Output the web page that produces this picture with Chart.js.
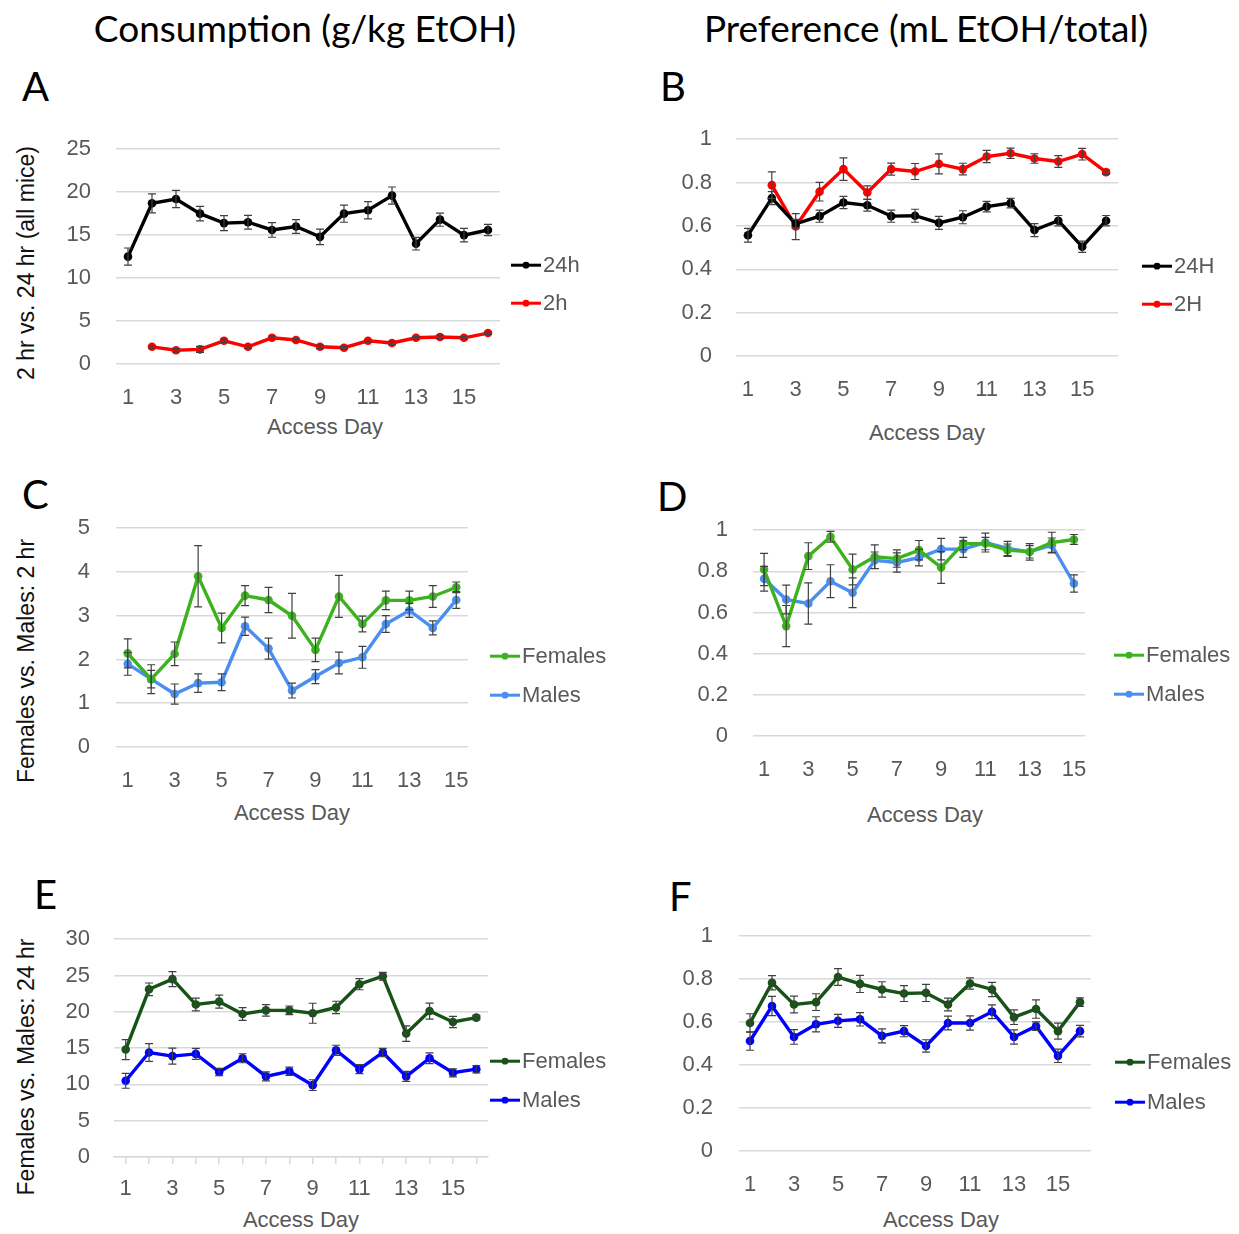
<!DOCTYPE html>
<html>
<head>
<meta charset="utf-8">
<title>EtOH access</title>
<script src="https://cdn.jsdelivr.net/npm/chart.js@4.4.0/dist/chart.umd.min.js"></script>
<style>
  body { margin: 0; background: #fff; }
  #page { position: relative; width: 1239px; height: 1234px; overflow: hidden; font-family: "Liberation Sans", Arial, sans-serif; }
  #page canvas { position: absolute; }
  .head { position: absolute; font-family: Lato, "Open Sans", sans-serif; font-size: 37px; line-height: 1; color: #000; white-space: nowrap; transform: translateX(-50%); }
  .letter { position: absolute; font-family: Lato, "Open Sans", sans-serif; font-size: 40px; line-height: 1; color: #000; }
  .ytitle { position: absolute; font-size: 23px; color: #111; white-space: nowrap; transform: translate(-50%, -50%) rotate(-90deg); }
  .xtitle { position: absolute; font-size: 22px; color: #595959; white-space: nowrap; transform: translate(-50%, -50%); }
</style>
</head>
<body>
<div id="page">
  <div class="head" style="left:305px; top:9px">Consumption (g/kg EtOH)</div>
  <div class="head" style="left:926px; top:9px">Preference (mL EtOH/total)</div>
  <div class="letter" style="left:22px; top:66px">A</div>
  <div class="letter" style="left:660px; top:66px">B</div>
  <div class="letter" style="left:22px; top:474px">C</div>
  <div class="letter" style="left:657px; top:476px">D</div>
  <div class="letter" style="left:34px; top:874px">E</div>
  <div class="letter" style="left:669px; top:876px">F</div>
  <div class="ytitle" style="left:26px; top:263px">2 hr vs. 24 hr (all mice)</div>
  <div class="ytitle" style="left:26px; top:661px">Females vs. Males: 2 hr</div>
  <div class="ytitle" style="left:26px; top:1067px">Females vs. Males: 24 hr</div>
  <div class="xtitle" style="left:325px; top:427px">Access Day</div>
  <div class="xtitle" style="left:927px; top:433px">Access Day</div>
  <div class="xtitle" style="left:292px; top:813px">Access Day</div>
  <div class="xtitle" style="left:925px; top:815px">Access Day</div>
  <div class="xtitle" style="left:301px; top:1220px">Access Day</div>
  <div class="xtitle" style="left:941px; top:1220px">Access Day</div>
</div>
<script>
// access days
const days16 = ['1','2','3','4','5','6','7','8','9','10','11','12','13','14','15','16'];
const days15 = ['1','2','3','4','5','6','7','8','9','10','11','12','13','14','15'];
const shownDays = ['1','3','5','7','9','11','13','15'];

// A: consumption, all mice
const consume24h    = [12.5, 18.7, 19.2, 17.5, 16.4, 16.5, 15.6, 16.0, 14.8, 17.5, 17.9, 19.6, 14.0, 16.8, 15.0, 15.6];
const consume24hErr = [1.0, 1.1, 1.0, 0.85, 0.87, 0.8, 0.85, 0.8, 0.9, 1.0, 1.0, 1.0, 0.73, 0.77, 0.79, 0.66];
const consume2h     = [null, 2.0, 1.6, 1.7, 2.7, 2.0, 3.05, 2.8, 2.0, 1.9, 2.7, 2.45, 3.05, 3.15, 3.05, 3.6];
const consume2hErr  = [null, 0.15, 0.2, 0.35, 0.2, 0.15, 0.2, 0.15, 0.2, 0.15, 0.15, 0.2, 0.15, 0.2, 0.15, 0.15];

// B: preference, all mice
const pref24H    = [0.557, 0.728, 0.61, 0.645, 0.708, 0.695, 0.645, 0.647, 0.614, 0.64, 0.689, 0.705, 0.581, 0.624, 0.504, 0.624];
const pref24HErr = [0.032, 0.03, 0.02, 0.028, 0.028, 0.027, 0.028, 0.03, 0.03, 0.03, 0.024, 0.022, 0.03, 0.024, 0.026, 0.024];
const pref2H     = [null, 0.788, 0.597, 0.758, 0.862, 0.754, 0.862, 0.851, 0.886, 0.862, 0.92, 0.935, 0.911, 0.897, 0.931, 0.848];
const pref2HErr  = [null, 0.061, 0.06, 0.043, 0.052, 0.031, 0.028, 0.037, 0.046, 0.027, 0.028, 0.024, 0.022, 0.027, 0.027, 0.01];

// C: 2 hr consumption by sex
const femConsume2h     = [2.14, 1.55, 2.13, 3.90, 2.72, 3.46, 3.36, 3.00, 2.22, 3.44, 2.81, 3.35, 3.35, 3.44, 3.65];
const femConsume2hErr  = [0.33, 0.2, 0.27, 0.70, 0.34, 0.23, 0.29, 0.51, 0.27, 0.48, 0.18, 0.21, 0.21, 0.25, 0.12];
const maleConsume2h    = [1.90, 1.55, 1.21, 1.46, 1.48, 2.76, 2.25, 1.29, 1.61, 1.92, 2.05, 2.81, 3.12, 2.72, 3.36];
const maleConsume2hErr = [0.26, 0.33, 0.23, 0.21, 0.19, 0.21, 0.24, 0.17, 0.16, 0.25, 0.25, 0.19, 0.16, 0.16, 0.19];

// D: 2 hr preference by sex
const femPref2h     = [0.809, 0.534, 0.874, 0.968, 0.809, 0.871, 0.862, 0.903, 0.819, 0.935, 0.935, 0.903, 0.895, 0.94, 0.955];
const femPref2hErr  = [0.078, 0.10, 0.065, 0.026, 0.075, 0.058, 0.042, 0.047, 0.077, 0.03, 0.03, 0.03, 0.03, 0.05, 0.024];
const malePref2h    = [0.764, 0.663, 0.644, 0.752, 0.696, 0.854, 0.843, 0.867, 0.908, 0.908, 0.94, 0.911, 0.895, 0.927, 0.741];
const malePref2hErr = [0.06, 0.07, 0.10, 0.08, 0.072, 0.04, 0.047, 0.04, 0.052, 0.04, 0.046, 0.035, 0.04, 0.035, 0.042];

// E: 24 hr consumption by sex
const femConsume24h     = [14.8, 23.1, 24.5, 21.0, 21.4, 19.7, 20.2, 20.2, 19.8, 20.6, 23.8, 24.9, 17.0, 20.1, 18.6, 19.2];
const femConsume24hErr  = [1.38, 0.87, 1.03, 0.87, 0.9, 0.87, 0.8, 0.6, 1.38, 0.85, 0.76, 0.53, 1.06, 1.1, 0.78, 0.3];
const maleConsume24h    = [10.5, 14.4, 13.9, 14.2, 11.7, 13.6, 11.1, 11.8, 9.9, 14.7, 12.1, 14.4, 11.1, 13.6, 11.6, 12.1];
const maleConsume24hErr = [1.03, 1.22, 1.1, 0.76, 0.5, 0.62, 0.62, 0.57, 0.74, 0.69, 0.62, 0.57, 0.69, 0.74, 0.55, 0.5];

// F: 24 hr preference by sex
const femPref24h     = [0.596, 0.783, 0.682, 0.693, 0.810, 0.778, 0.752, 0.733, 0.736, 0.682, 0.780, 0.752, 0.623, 0.661, 0.558, 0.693];
const femPref24hErr  = [0.043, 0.033, 0.039, 0.039, 0.039, 0.04, 0.036, 0.037, 0.04, 0.03, 0.026, 0.033, 0.034, 0.043, 0.037, 0.02];
const malePref24h    = [0.512, 0.675, 0.531, 0.590, 0.606, 0.613, 0.536, 0.558, 0.489, 0.596, 0.596, 0.648, 0.531, 0.581, 0.443, 0.558];
const malePref24hErr = [0.043, 0.045, 0.034, 0.035, 0.03, 0.031, 0.033, 0.026, 0.029, 0.032, 0.033, 0.032, 0.033, 0.02, 0.031, 0.027];

const GREY_TEXT = '#595959';
const GRID = '#d9d9d9';
const FONT = '"Liberation Sans", Arial, sans-serif';
const TICK_SIZE = 22;

// error bars (mean +/- err) on top of the lines
const errorBars = {
  id: 'errorBars',
  afterDatasetsDraw(chart) {
    const ctx = chart.ctx, y = chart.scales.y;
    chart.data.datasets.forEach((ds, i) => {
      if (!ds.errors) return;
      const meta = chart.getDatasetMeta(i);
      ctx.save();
      ctx.strokeStyle = '#404040';
      ctx.lineWidth = 1.2;
      meta.data.forEach((pt, j) => {
        const v = ds.data[j], e = ds.errors[j];
        if (v == null || !e) return;
        const hi = y.getPixelForValue(v + e), lo = y.getPixelForValue(v - e);
        ctx.beginPath();
        ctx.moveTo(pt.x, hi); ctx.lineTo(pt.x, lo);
        ctx.moveTo(pt.x - 4, hi); ctx.lineTo(pt.x + 4, hi);
        ctx.moveTo(pt.x - 4, lo); ctx.lineTo(pt.x + 4, lo);
        ctx.stroke();
      });
      ctx.restore();
    });
  }
};

// excel style legend: short line with a dot, label to the right
const lineLegend = {
  id: 'lineLegend',
  afterDraw(chart, args, opts) {
    const ctx = chart.ctx, area = chart.chartArea;
    ctx.save();
    chart.data.datasets.forEach((ds, i) => {
      const x = area.right + opts.dx, y = area.top + opts.ys[i];
      ctx.strokeStyle = ds.borderColor;
      ctx.fillStyle = ds.borderColor;
      ctx.lineWidth = 3;
      ctx.beginPath(); ctx.moveTo(x, y); ctx.lineTo(x + 30, y); ctx.stroke();
      ctx.beginPath(); ctx.arc(x + 15, y, 3.4, 0, Math.PI * 2); ctx.fill();
      ctx.fillStyle = GREY_TEXT;
      ctx.font = TICK_SIZE + 'px ' + FONT;
      ctx.textBaseline = 'middle';
      ctx.fillText(ds.label, x + 32, y + 1);
    });
    ctx.restore();
  }
};

function series(label, data, errors, color) {
  return {
    label, data, errors,
    borderColor: color, backgroundColor: color,
    pointBackgroundColor: color, pointBorderColor: color,
    borderWidth: 3.4, pointRadius: 4.3, pointBorderWidth: 0, tension: 0
  };
}

function config(labels, datasets, yMax, yStep, yPad, legend, ticksOnX) {
  const W = 100, H = 60, PR = 150;
  const tickFont = { family: FONT, size: TICK_SIZE };
  return {
    type: 'line',
    data: { labels, datasets },
    options: {
      responsive: false,
      animation: false,
      layout: { padding: { top: 14, right: PR, left: 0, bottom: 0 } },
      plugins: { legend: { display: false }, tooltip: { enabled: false }, lineLegend: legend },
      scales: {
        x: {
          offset: true,
          afterFit(s) { s.height = H; },
          grid: { display: ticksOnX, drawOnChartArea: false, drawTicks: ticksOnX, tickLength: 7, color: GRID, lineWidth: 1.5 },
          border: { display: ticksOnX, color: GRID, width: 1.5 },
          ticks: {
            autoSkip: false, maxRotation: 0, color: GREY_TEXT, font: tickFont,
            padding: ticksOnX ? 12 : 21,
            callback(v) { const l = this.getLabelForValue(v); return shownDays.includes(l) ? l : ''; }
          }
        },
        y: {
          min: 0, max: yMax,
          afterFit(s) { s.width = W; },
          grid: { color: GRID, lineWidth: 1.5, drawTicks: false },
          border: { display: false },
          ticks: { stepSize: yStep, padding: yPad, color: GREY_TEXT, font: tickFont, callback: v => String(+v.toFixed(2)) }
        }
      }
    },
    plugins: [errorBars, lineLegend]
  };
}

// area = [left, right, top, bottom] of the plot region on the page.
// First pass measures the margins Chart.js leaves around the plot,
// second pass sizes and places the canvas so the plot lands on area.
function panel(area, labels, datasets, yMax, yStep, yPad, legend, ticksOnX) {
  const canvas = document.createElement('canvas');
  canvas.width = 600; canvas.height = 400;
  document.getElementById('page').appendChild(canvas);
  const probe = new Chart(canvas, config(labels, datasets, yMax, yStep, yPad, legend, ticksOnX));
  const a = probe.chartArea;
  const mL = a.left, mT = a.top, mR = 600 - a.right, mB = 400 - a.bottom;
  probe.destroy();
  canvas.width = Math.round(area[1] - area[0] + mL + mR);
  canvas.height = Math.round(area[3] - area[2] + mT + mB);
  canvas.style.left = (area[0] - mL) + 'px';
  canvas.style.top = (area[2] - mT) + 'px';
  new Chart(canvas, config(labels, datasets, yMax, yStep, yPad, legend, ticksOnX));
}

panel([116, 500, 149.3, 364.3], days16, [
  series('24h', consume24h, consume24hErr, '#000000'),
  series('2h', consume2h, consume2hErr, '#ff0000')
], 25, 5, 25, { dx: 11, ys: [116, 154] }, false);

panel([735.5, 1117, 139.3, 356], days16, [
  series('24H', pref24H, pref24HErr, '#000000'),
  series('2H', pref2H, pref2HErr, '#ff0000')
], 1, 0.2, 24, { dx: 24, ys: [127, 165] }, false);

panel([116, 467.7, 527.7, 746.3], days15, [
  series('Females', femConsume2h, femConsume2hErr, '#3cb31e'),
  series('Males', maleConsume2h, maleConsume2hErr, '#4a8ff0')
], 5, 1, 26, { dx: 22, ys: [128, 167] }, false);

panel([752.7, 1085, 530, 736], days15, [
  series('Females', femPref2h, femPref2hErr, '#3cb31e'),
  series('Males', malePref2h, malePref2hErr, '#4a8ff0')
], 1, 0.2, 25, { dx: 29, ys: [125, 164] }, false);

panel([114, 488, 939.3, 1156.7], days16, [
  series('Females', femConsume24h, femConsume24hErr, '#175217'),
  series('Males', maleConsume24h, maleConsume24hErr, '#0000ff')
], 30, 5, 24, { dx: 2, ys: [122, 161] }, true);

panel([739, 1091, 936, 1150.7], days16, [
  series('Females', femPref24h, femPref24hErr, '#175217'),
  series('Males', malePref24h, malePref24hErr, '#0000ff')
], 1, 0.2, 26, { dx: 24, ys: [126, 166] }, false);
</script>
</body>
</html>
